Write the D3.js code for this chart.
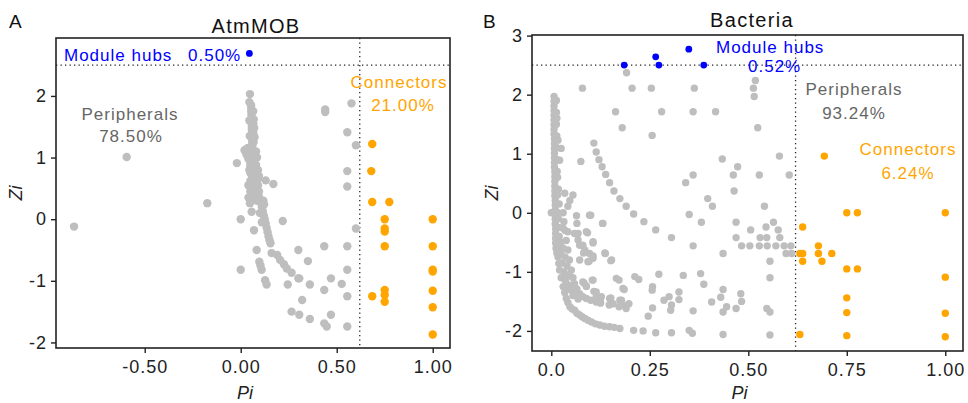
<!DOCTYPE html>
<html>
<head>
<meta charset="utf-8">
<script src="https://cdn.jsdelivr.net/npm/d3@7"></script>
<style>
  body { margin: 0; background: #fff; }
  svg { font-family: "Liberation Sans", Arial, sans-serif; }
</style>
</head>
<body>
<svg id="chart" width="968" height="403"></svg>
<script>
// ---- Panel A (AtmMOB) ----
const aGray = [
  [0.048,2.03],[0.054,1.85],[0.055,1.80],[0.055,1.75],[0.056,1.70],[0.056,1.65],[0.057,1.60],[0.057,1.55],
  [0.058,1.50],[0.058,1.45],[0.059,1.40],[0.059,1.35],[0.060,1.30],[0.060,1.25],[0.061,1.20],
  [0.068,1.62],[0.070,1.48],[0.072,1.33],[0.066,1.40],
  [0.045,1.90],[0.065,1.75],[0.066,1.55],[0.067,1.25],[0.045,1.60],[0.047,1.35],[0.040,1.15],
  [0.020,1.12],[0.035,1.15],[0.050,1.17],[0.080,1.10],[0.030,1.05],[0.060,1.05],[0.085,1.00],
  [0.040,0.98],[0.070,0.95],[0.050,0.90],[0.080,0.88],
  [0.050,0.85],[0.070,0.82],[0.090,0.80],[0.050,0.75],[0.080,0.72],[0.060,0.68],[0.090,0.65],
  [0.050,0.62],[0.070,0.58],[0.090,0.55],[0.060,0.52],[0.080,0.48],[0.050,0.45],[0.070,0.42],
  [0.090,0.40],[0.060,0.36],[0.060,0.32],[0.048,0.26],[0.057,0.12],
  [0.045,0.80],[0.095,0.70],[0.040,0.55],[0.095,0.45],[0.040,0.35],[0.085,0.30],
  [0.092,0.39],[0.100,0.33],[0.105,0.27],[0.110,0.20],[0.115,0.13],[0.120,0.06],[0.125,0.00],
  [0.130,-0.07],[0.135,-0.14],[0.140,-0.21],[0.145,-0.28],[0.150,-0.34],[0.155,-0.39],
  [0.118,0.30],[0.122,0.24],[0.100,0.10],[0.110,-0.05],
  [0.161,-0.55],[0.190,-0.58],[0.205,-0.66],[0.225,-0.73],[0.240,-0.80],[0.265,-0.87],[0.300,-0.96],
  [0.000,-0.82],[0.083,-0.50],[0.097,-0.69],[0.103,-0.75],[0.109,-0.82],[0.127,-0.99],[0.135,-1.06],
  [0.000,0.00],[0.069,-0.18],[0.219,-0.03],[-0.020,0.91],[-0.174,0.26],[-0.868,-0.12],[-0.594,1.01],
  [0.130,0.63],[0.170,0.57],[0.440,1.78],[0.440,1.74],[0.577,1.88],[0.555,1.41],[0.600,1.20],
  [0.555,0.78],[0.555,0.53],[0.600,-0.15],[0.300,-0.50],[0.350,-0.68],[0.435,-0.44],[0.555,-0.44],
  [0.555,-0.82],[0.470,-0.96],[0.526,-1.05],[0.435,-1.15],[0.555,-1.25],[0.305,-0.96],[0.245,-1.06],
  [0.360,-1.06],[0.320,-1.31],[0.265,-1.50],[0.305,-1.55],[0.360,-1.62],[0.470,-1.55],[0.435,-1.69],
  [0.448,-1.74],[0.555,-1.74]
];
const aOrange = [
  [0.685,1.22],[0.680,0.78],[0.685,0.28],[0.774,0.28],[0.750,0.00],[0.750,-0.15],[0.750,-0.20],
  [0.750,-0.44],[0.685,-1.25],[0.750,-1.15],[0.750,-1.23],[0.750,-1.34],
  [1.000,0.00],[1.000,-0.44],[1.000,-0.82],[1.000,-0.85],[1.000,-1.16],[1.000,-1.43],[1.000,-1.87]
];
const aBlue = [[0.045,2.69]];
const aXTicks = [-0.5, 0, 0.5, 1];
const aXLabels = ["-0.50", "0.00", "0.50", "1.00"];
const aYTicks = [-2, -1, 0, 1, 2];
const aYLabels = ["-2", "-1", "0", "1", "2"];

// ---- Panel B (Bacteria) ----
const bColumn = [
  [0.007,1.97],[0.007,1.89],[0.007,1.81],[0.007,1.73],[0.007,1.65],[0.007,1.57],[0.007,1.49],
  [0.007,1.41],[0.007,1.33],[0.008,1.25],[0.008,1.17],[0.008,1.09],[0.008,1.01],[0.008,0.93],
  [0.008,0.85],[0.008,0.77],[0.009,0.69],[0.009,0.61],[0.009,0.53],[0.009,0.45],[0.009,0.37],
  [0.009,0.29],[0.010,0.21],[0.010,0.13],[0.010,0.05],[0.010,-0.03],[0.010,-0.11],[0.010,-0.19],
  [0.011,-0.27],[0.011,-0.35],[0.011,-0.43],[0.011,-0.51],[0.012,-0.60],
  [0.014,1.60],[0.014,1.30],[0.015,0.90],[0.016,0.60],[0.018,0.40],[0.020,0.15],[0.018,-0.10],[0.020,-0.40],
  [0.013,1.90],[0.013,1.70],[0.013,1.50],[0.014,1.10],[0.015,0.70],[0.016,0.30],[0.017,0.00],[0.019,-0.25]
];
const bCurves = [
  [0.014,-0.68],[0.017,-0.75],[0.019,-0.86],[0.021,-0.97],[0.025,-1.10],[0.030,-1.25],[0.034,-1.35],
  [0.038,-1.45],[0.042,-1.52],[0.047,-1.59],[0.053,-1.63],[0.059,-1.65],
  [0.030,0.00],[0.032,-0.15],[0.035,-0.30],[0.038,-0.47],[0.042,-0.63],[0.046,-0.80],[0.051,-0.97],
  [0.055,-1.10],[0.059,-1.20],[0.065,-1.29],[0.072,-1.37],[0.080,-1.42],[0.089,-1.45],[0.100,-1.48],
  [0.114,-1.51],[0.125,-1.53],[0.036,-1.15],[0.045,-1.30],[0.055,-1.40],[0.068,-1.46],
  [0.020,-0.60],[0.025,-0.70],[0.028,-0.85],[0.032,-1.00],[0.038,-1.10],[0.044,-1.22],[0.050,-1.30],
  [0.058,-1.36],[0.024,-0.50],[0.030,-0.60],[0.035,-0.75],[0.040,-0.90],[0.046,-1.05],
  [0.065,-1.70],[0.072,-1.73],[0.078,-1.76],[0.085,-1.79],[0.093,-1.82],[0.102,-1.85],[0.112,-1.88],
  [0.123,-1.90],[0.135,-1.92],[0.148,-1.93],[0.160,-1.94],
  [0.030,-0.26],[0.042,-0.32],[0.059,-0.35],[0.068,-0.46],[0.072,-0.55]
];
const bGray = [
  [0.191,2.37],[0.079,2.11],[0.205,2.11],[0.254,2.11],[0.363,2.11],[0.518,2.24],[0.513,2.11],
  [0.515,1.97],[0.163,1.71],[0.280,1.71],[0.360,1.71],[0.417,1.71],[0.180,1.44],[0.524,1.44],[0.256,1.31],
  [0.108,1.18],[0.114,1.03],[0.121,0.90],[0.129,0.78],[0.138,0.65],[0.148,0.51],[0.159,0.37],
  [0.174,0.24],[0.190,0.11],[0.209,-0.02],[0.235,-0.15],[0.265,-0.29],[0.305,-0.42],[0.360,-0.56],[0.436,-0.69],
  [0.017,1.23],[0.025,1.09],[0.021,0.89],[0.075,0.87],[0.055,0.30],[0.047,0.21],[0.042,0.11],
  [0.034,0.33],[0.000,0.00],[0.064,-0.05],[0.097,-0.04],[0.131,-0.18],[0.089,-0.32],[0.068,-0.35],
  [0.106,-0.49],[0.085,-0.63],[0.097,-0.69],[0.072,-0.80],[0.093,-0.83],[0.106,-0.77],[0.136,-0.68],
  [0.153,-0.80],[0.092,-0.34],[0.080,-0.55],[0.082,-0.68],[0.096,-0.82],[0.065,-0.18],
  [0.080,-1.17],[0.106,-1.14],[0.089,-1.24],[0.114,-1.34],[0.127,-1.42],[0.148,-1.45],[0.157,-1.54],
  [0.174,-1.48],[0.165,-1.11],[0.182,-1.28],[0.212,-1.08],[0.222,-1.13],[0.185,-1.30],
  [0.172,-1.14],[0.178,-1.48],[0.182,-1.56],[0.197,-1.54],[0.190,-1.62],[0.172,-1.59],[0.151,-1.44],
  [0.147,-1.56],[0.174,-1.96],[0.209,-1.99],[0.233,-2.00],[0.265,-2.03],[0.305,-2.03],[0.350,-1.99],
  [0.358,-2.04],[0.436,-2.06],[0.555,-2.07],
  [0.434,0.91],[0.473,0.78],[0.462,0.64],[0.360,0.64],[0.341,0.51],[0.528,0.64],[0.579,0.96],
  [0.604,0.64],[0.464,0.37],[0.397,0.24],[0.409,0.11],[0.350,-0.03],[0.381,-0.16],[0.469,-0.16],
  [0.541,0.11],[0.506,-0.29],[0.545,-0.24],[0.564,-0.16],[0.576,-0.29],[0.530,-0.42],[0.547,-0.42],
  [0.580,-0.42],[0.469,-0.42],[0.483,-0.56],[0.504,-0.56],[0.528,-0.56],[0.548,-0.56],[0.570,-0.56],
  [0.591,-0.56],[0.608,-0.56],[0.596,-0.69],[0.610,-0.69],[0.555,-0.82],[0.555,-1.10],[0.547,-1.62],
  [0.555,-1.68],[0.481,-1.37],[0.483,-1.50],[0.469,-1.62],[0.445,-1.59],[0.436,-1.68],[0.436,-1.30],
  [0.430,-1.43],[0.407,-1.51],[0.387,-1.21],[0.379,-1.03],[0.335,-1.06],[0.324,-1.34],[0.324,-1.47],
  [0.299,-1.42],[0.305,-1.56],[0.303,-1.65],[0.286,-1.48],[0.360,-1.66],[0.273,-1.04],[0.257,-1.25],
  [0.256,-1.31],[0.257,-1.61],[0.246,-1.75],[0.130,-0.18],[0.100,-0.04],[0.106,-0.51],[0.137,-0.69],
  [0.151,-0.81],[0.106,-0.73],[0.104,-1.14],[0.083,-1.19],[0.089,-1.25],[0.108,-1.33],[0.114,-1.42],
  [0.125,-1.51]
];
const bOrange = [
  [0.693,0.96],[0.750,0.00],[0.777,0.00],[1.000,0.00],[0.638,-0.24],[0.678,-0.56],[0.631,-0.69],
  [0.638,-0.69],[0.678,-0.69],[0.712,-0.69],[0.638,-0.82],[0.687,-0.82],[0.750,-0.95],[0.777,-0.95],
  [1.000,-1.09],[0.750,-1.44],[0.750,-1.69],[1.000,-1.70],[0.750,-2.08],[1.000,-2.10],[0.631,-2.06]
];
const bBlue = [[0.185,2.50],[0.265,2.64],[0.273,2.50],[0.349,2.77],[0.387,2.50]];
const bXTicks = [0, 0.25, 0.5, 0.75, 1];
const bXLabels = ["0.0", "0.25", "0.50", "0.75", "1.00"];
const bYTicks = [-2, -1, 0, 1, 2, 3];
const bYLabels = ["-2", "-1", "0", "1", "2", "3"];

const GRAY = "#bebebe", ORANGE = "#ffa500", BLUE = "#0000ff";
const svg = d3.select("#chart");

function drawPanel(p) {
  const x = d3.scaleLinear().domain(p.xDomain).range([p.left, p.right]);
  const y = d3.scaleLinear().domain(p.yDomain).range([p.bottom, p.top]);
  const g = svg.append("g");

  // threshold lines
  g.append("line")
    .attr("x1", p.left).attr("x2", p.right)
    .attr("y1", y(2.5)).attr("y2", y(2.5))
    .attr("stroke", "#222").attr("stroke-width", 1.3).attr("stroke-dasharray", "1.3,3.2");
  g.append("line")
    .attr("x1", x(0.62)).attr("x2", x(0.62))
    .attr("y1", p.top).attr("y2", p.bottom)
    .attr("stroke", "#222").attr("stroke-width", 1.3).attr("stroke-dasharray", "1.3,3.2");

  // points
  const layers = [[p.gray, GRAY, p.r], [p.orange, ORANGE, p.r], [p.blue, BLUE, p.rHub]];
  layers.forEach(([data, color, r]) => {
    g.append("g").selectAll("circle")
      .data(data)
      .enter()
      .append("circle")
      .attr("cx", d => x(d[0]))
      .attr("cy", d => y(d[1]))
      .attr("r", r)
      .attr("fill", color);
  });

  // frame
  g.append("rect")
    .attr("x", p.left).attr("y", p.top)
    .attr("width", p.right - p.left).attr("height", p.bottom - p.top)
    .attr("fill", "none").attr("stroke", "#222").attr("stroke-width", 1.6);

  // axes
  const xAxis = g.append("g")
    .attr("transform", `translate(0,${p.bottom})`)
    .call(d3.axisBottom(x).tickValues(p.xTicks).tickFormat((d, i) => p.xLabels[i]).tickSize(5).tickPadding(7));
  const yAxis = g.append("g")
    .attr("transform", `translate(${p.left},0)`)
    .call(d3.axisLeft(y).tickValues(p.yTicks).tickFormat((d, i) => p.yLabels[i]).tickSize(5).tickPadding(4));
  [xAxis, yAxis].forEach(a => {
    a.select(".domain").remove();
    a.selectAll(".tick line").attr("stroke", "#222").attr("stroke-width", 1.4);
    a.selectAll(".tick text")
      .attr("fill", "#222")
      .style("font-size", "18px")
      .style("letter-spacing", "1px")
      .style("font-family", "'Liberation Sans', Arial, sans-serif");
  });

  // axis titles
  g.append("text")
    .attr("x", (p.left + p.right) / 2 - 8).attr("y", 399)
    .attr("text-anchor", "middle").attr("font-style", "italic")
    .attr("font-size", 18).attr("fill", "#222").text("Pi");
  g.append("text")
    .attr("transform", `translate(${p.zx},${(p.top + p.bottom) / 2}) rotate(-90)`)
    .attr("text-anchor", "middle").attr("font-style", "italic")
    .attr("font-size", 18).attr("fill", "#222").text("Zi");

  // title and panel letter
  g.append("text")
    .attr("x", p.titleX).attr("y", p.titleY)
    .attr("text-anchor", "middle").attr("font-size", 20)
    .style("letter-spacing", "1.3px").attr("fill", "#111").text(p.title);
  g.append("text")
    .attr("x", p.letterX).attr("y", 28)
    .attr("font-size", 19).attr("fill", "#111").text(p.letter);

  // annotations
  p.notes.forEach(n => {
    g.append("text")
      .attr("x", n.x).attr("y", n.y)
      .attr("text-anchor", n.anchor || "start")
      .attr("font-size", 17)
      .style("letter-spacing", "1px")
      .attr("fill", n.color)
      .text(n.text);
  });
}

drawPanel({
  left: 56, right: 450, top: 38, bottom: 348,
  xDomain: [-0.962, 1.09], yDomain: [-2.09, 2.94],
  gray: aGray, orange: aOrange, blue: aBlue, r: 4.2, rHub: 3.4,
  xTicks: aXTicks, xLabels: aXLabels, yTicks: aYTicks, yLabels: aYLabels,
  zx: 22, title: "AtmMOB", titleX: 256, titleY: 33, letter: "A", letterX: 9,
  notes: [
    { x: 64, y: 61, text: "Module hubs", color: BLUE },
    { x: 188, y: 61, text: "0.50%", color: BLUE },
    { x: 130, y: 120, text: "Peripherals", color: "#666", anchor: "middle" },
    { x: 131, y: 142, text: "78.50%", color: "#666", anchor: "middle" },
    { x: 399, y: 88, text: "Connectors", color: ORANGE, anchor: "middle" },
    { x: 403, y: 111, text: "21.00%", color: ORANGE, anchor: "middle" }
  ]
});

drawPanel({
  left: 532, right: 963, top: 35, bottom: 351,
  xDomain: [-0.049, 1.045], yDomain: [-2.34, 3.01],
  gray: bColumn.concat(bCurves, bGray), orange: bOrange, blue: bBlue, r: 3.7, rHub: 3.4,
  xTicks: bXTicks, xLabels: bXLabels, yTicks: bYTicks, yLabels: bYLabels,
  zx: 498, title: "Bacteria", titleX: 752, titleY: 27, letter: "B", letterX: 483,
  notes: [
    { x: 716, y: 53, text: "Module hubs", color: BLUE },
    { x: 748, y: 72, text: "0.52%", color: BLUE },
    { x: 854, y: 95, text: "Peripherals", color: "#666", anchor: "middle" },
    { x: 854, y: 119, text: "93.24%", color: "#666", anchor: "middle" },
    { x: 908, y: 155, text: "Connectors", color: ORANGE, anchor: "middle" },
    { x: 908, y: 179, text: "6.24%", color: ORANGE, anchor: "middle" }
  ]
});
</script>
</body>
</html>
